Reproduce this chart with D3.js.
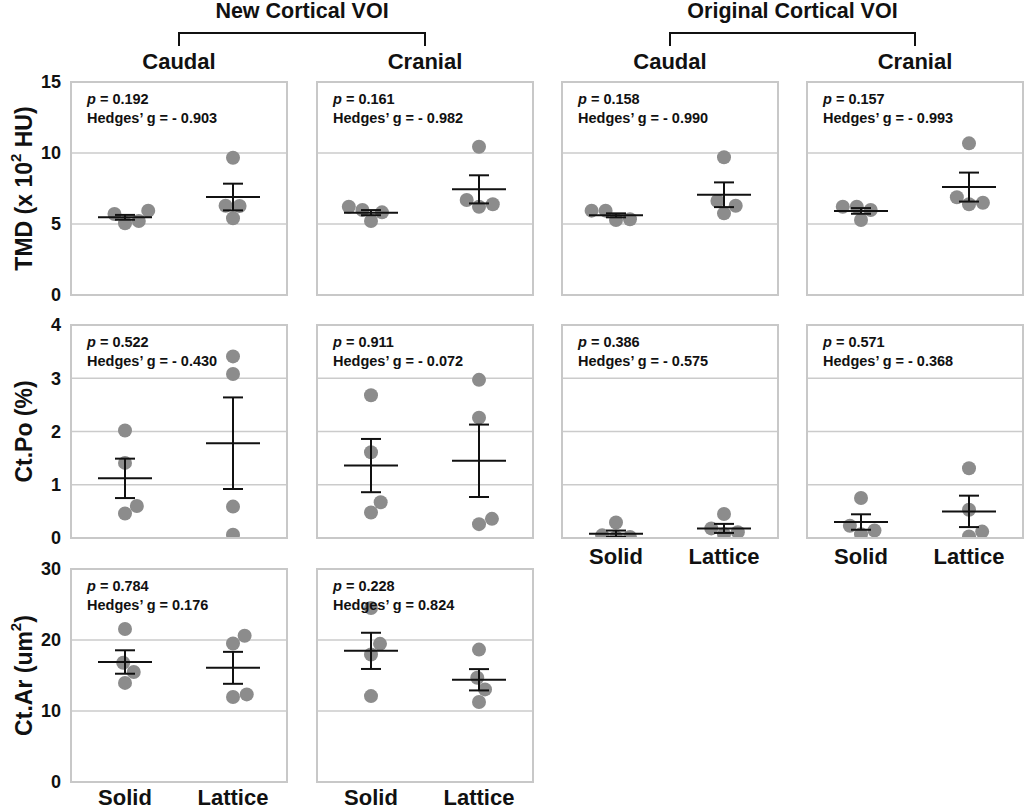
<!DOCTYPE html>
<html lang="en">
<head>
    <meta charset="UTF-8">
    <title>Cortical VOI comparison</title>
    <style>
        body { margin: 0; background: #fff; }
        text { font-family: "Liberation Sans", Arial, sans-serif; font-weight: bold; fill: #111; }
    </style>
</head>
<body></body>
<script src="https://cdn.jsdelivr.net/npm/d3@7"></script>
<script>
    // groups and panels
    const groups = ["Solid", "Lattice"];
    const regions = ["Caudal", "Cranial", "Caudal", "Cranial"];
    const voiTitles = ["New Cortical VOI", "Original Cortical VOI"];

    // TMD (x 10^2 HU), one array per region column
    const tmdSolid = [[5.94, 5.21, 5.05, 5.70], [5.82, 5.21, 5.99, 6.22], [5.33, 5.28, 5.94, 5.94], [5.99, 6.22, 6.22, 5.28]];
    const tmdLattice = [[9.67, 6.27, 6.29, 5.40], [10.44, 6.39, 6.22, 6.69], [9.70, 6.29, 6.62, 5.75], [10.68, 6.50, 6.39, 6.88]];
    const tmdMean = [[5.47, 6.90], [5.80, 7.44], [5.61, 7.06], [5.92, 7.60]];
    const tmdSem = [[0.17, 0.94], [0.18, 0.99], [0.14, 0.87], [0.20, 1.02]];
    const tmdP = ["0.192", "0.161", "0.158", "0.157"];
    const tmdG = ["- 0.903", "- 0.982", "- 0.990", "- 0.993"];

    // Ct.Po (%)
    const poSolid = [[2.02, 1.41, 0.60, 0.46], [2.68, 1.61, 0.67, 0.48], [0.29, 0.05, 0.01, 0.02], [0.75, 0.23, 0.14, 0.07]];
    const poLattice = [[3.41, 3.08, 0.59, 0.06], [2.97, 2.26, 0.36, 0.26], [0.45, 0.11, 0.18, 0.07], [1.31, 0.53, 0.12, 0.03]];
    const poMean = [[1.12, 1.78], [1.36, 1.45], [0.08, 0.18], [0.30, 0.50]];
    const poSem = [[0.37, 0.86], [0.50, 0.68], [0.06, 0.085], [0.145, 0.295]];
    const poP = ["0.522", "0.911", "0.386", "0.571"];
    const poG = ["- 0.430", "- 0.072", "- 0.575", "- 0.368"];

    // Ct.Ar (um^2), only the new VOI
    const arSolid = [[21.55, 16.8, 15.5, 13.96], [24.5, 19.46, 17.95, 12.1]];
    const arLattice = [[20.6, 19.5, 12.34, 11.97], [18.65, 14.68, 13.04, 11.26]];
    const arMean = [[16.9, 16.08], [18.47, 14.4]];
    const arSem = [[1.65, 2.25], [2.55, 1.5]];
    const arP = ["0.784", "0.228"];
    const arG = ["0.176", "0.824"];

    const yDomains = [[0, 15], [0, 4], [0, 30]];
    const yTicks = [[0, 5, 10, 15], [0, 1, 2, 3, 4], [0, 10, 20, 30]];

    const rows = [
        {solid: tmdSolid, lattice: tmdLattice, mean: tmdMean, sem: tmdSem, p: tmdP, g: tmdG},
        {solid: poSolid, lattice: poLattice, mean: poMean, sem: poSem, p: poP, g: poG},
        {solid: arSolid, lattice: arLattice, mean: arMean, sem: arSem, p: arP, g: arG}
    ];

    const width = 1024, height = 811;
    const colX = [71, 317, 562, 807];
    const rowY = [82, 325, 569];
    const pw = 216, ph = 213;
    const r = 7;

    const svg = d3.select("body").append("svg")
        .attr("width", width)
        .attr("height", height);

    const x = d3.scalePoint().domain(groups).range([0, pw]).padding(0.5);

    // simple beeswarm: each point goes to the free offset nearest the centre
    function swarm(vals, y) {
        const placed = [];
        const order = vals.map((v, i) => ({v, i, y: y(v)})).sort((a, b) => b.y - a.y);
        order.forEach(p => {
            let cands = [0];
            placed.forEach(q => {
                const dy = Math.abs(q.y - p.y);
                if (dy < 2 * r) {
                    const dx = Math.sqrt(4 * r * r - dy * dy);
                    cands.push(q.dx + dx, q.dx - dx);
                }
            });
            cands.sort((a, b) => Math.abs(a) - Math.abs(b));
            const ok = cands.find(c => placed.every(q =>
                (q.dx - c) ** 2 + (q.y - p.y) ** 2 >= 4 * r * r - 0.01));
            p.dx = ok;
            placed.push(p);
        });
        return placed;
    }

    rows.forEach((row, ri) => {
        const y = d3.scaleLinear().domain(yDomains[ri]).range([ph, 0]);
        const nCols = row.p.length;
        for (let ci = 0; ci < nCols; ci++) {
            const g = svg.append("g").attr("transform", `translate(${colX[ci]},${rowY[ri]})`);
            const clipId = `clip-${ri}-${ci}`;
            g.append("clipPath").attr("id", clipId)
                .append("rect").attr("width", pw).attr("height", ph);

            // gridlines
            g.selectAll(".grid")
                .data(yTicks[ri].slice(1, -1))
                .enter().append("line")
                .attr("x1", 0).attr("x2", pw)
                .attr("y1", d => y(d)).attr("y2", d => y(d))
                .style("stroke", "#cbcbcb").style("stroke-width", 1.6);

            // points
            const pts = g.append("g").attr("clip-path", `url(#${clipId})`);
            [row.solid[ci], row.lattice[ci]].forEach((vals, gi) => {
                pts.selectAll(null)
                    .data(swarm(vals, y))
                    .enter().append("circle")
                    .attr("cx", d => x(groups[gi]) + d.dx)
                    .attr("cy", d => d.y)
                    .attr("r", r)
                    .style("fill", "#8c8c8c");
            });

            // mean and sem bars
            groups.forEach((grp, gi) => {
                const cx = x(grp);
                const m = row.mean[ci][gi], s = row.sem[ci][gi];
                const bars = g.append("g").style("stroke", "#111").style("stroke-width", 2);
                bars.append("line").attr("x1", cx - 27).attr("x2", cx + 27)
                    .attr("y1", y(m)).attr("y2", y(m));
                bars.append("line").attr("x1", cx).attr("x2", cx)
                    .attr("y1", y(m + s)).attr("y2", y(Math.max(0, m - s)));
                [m + s, Math.max(0, m - s)].forEach(v => {
                    bars.append("line").attr("x1", cx - 10).attr("x2", cx + 10)
                        .attr("y1", y(v)).attr("y2", y(v));
                });
            });

            // frame
            g.append("rect").attr("width", pw).attr("height", ph)
                .style("fill", "none").style("stroke", "#c8c8c8").style("stroke-width", 2);

            // stats
            const t1 = g.append("text").attr("x", 16).attr("y", 22).style("font-size", "14.5px");
            t1.append("tspan").style("font-style", "italic").text("p");
            t1.append("tspan").text(" = " + row.p[ci]);
            g.append("text").attr("x", 16).attr("y", 41).style("font-size", "14.5px")
                .text("Hedges\u2019 g = " + row.g[ci]);

            // y axis on the first column
            if (ci === 0) {
                const ax = g.append("g")
                    .call(d3.axisLeft(y).tickValues(yTicks[ri]).tickFormat(d3.format("d"))
                        .tickSize(0).tickPadding(10));
                ax.select(".domain").remove();
                ax.selectAll("text")
                    .style("font-size", "18px")
                    .style("font-family", "'Liberation Sans', Arial, sans-serif")
                    .style("font-weight", "bold")
                    .attr("fill", "#111");
            }

            // group labels under the lowest panel of each column
            const last = (ri === 2) || (ri === 1 && ci >= 2);
            if (last) {
                g.selectAll(".xl")
                    .data(groups)
                    .enter().append("text")
                    .attr("x", d => x(d))
                    .attr("y", ph + (ri === 2 ? 23 : 26))
                    .attr("text-anchor", "middle")
                    .style("font-size", "22px")
                    .text(d => d);
            }
        }
    });

    // y axis titles
    const yTitles = [
        ["TMD (x 10", "2", " HU)"],
        ["Ct.Po (%)", "", ""],
        ["Ct.Ar (um", "2", ")"]
    ];
    yTitles.forEach((parts, ri) => {
        const t = svg.append("text")
            .attr("transform", `translate(32,${rowY[ri] + ph / 2}) rotate(-90)`)
            .attr("text-anchor", "middle")
            .style("font-size", "23px");
        t.append("tspan").text(parts[0]);
        if (parts[1]) {
            t.append("tspan").attr("dy", -11).style("font-size", "15px").text(parts[1]);
            t.append("tspan").attr("dy", 11).text(parts[2]);
        }
    });

    // region headers
    regions.forEach((name, ci) => {
        svg.append("text")
            .attr("x", colX[ci] + pw / 2)
            .attr("y", 69)
            .attr("text-anchor", "middle")
            .style("font-size", "22px")
            .text(name);
    });

    // VOI headers with brackets
    voiTitles.forEach((name, k) => {
        const xa = colX[2 * k] + pw / 2, xb = colX[2 * k + 1] + pw / 2;
        svg.append("text")
            .attr("x", (xa + xb) / 2)
            .attr("y", 18)
            .attr("text-anchor", "middle")
            .style("font-size", "21.5px")
            .text(name);
        svg.append("path")
            .attr("d", `M${xa},46V33H${xb}V46`)
            .style("fill", "none").style("stroke", "#111").style("stroke-width", 2);
    });
</script>
</html>
